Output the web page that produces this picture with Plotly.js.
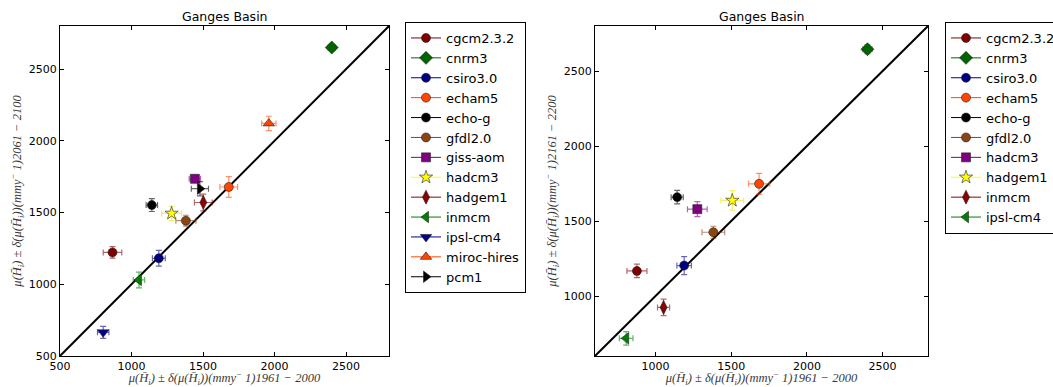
<!DOCTYPE html>
<html>
<head>
<meta charset="utf-8">
<script src="https://cdn.plot.ly/plotly-3.0.1.min.js"></script>
<style>
html,body{margin:0;padding:0;background:#fff;}
#chart{width:1053px;height:387px;}
</style>
</head>
<body>
<div id="chart"></div>
<script>
// ---- Data ----
const leftModels = ['cgcm2.3.2','cnrm3','csiro3.0','echam5','echo-g','gfdl2.0','giss-aom','hadcm3','hadgem1','inmcm','ipsl-cm4','miroc-hires','pcm1'];
const leftX    = [867, 2400, 1191, 1680, 1142, 1380, 1443, 1280, 1502, 1052, 802, 1960, 1478];
const leftY    = [1222, 2650, 1181, 1678, 1552, 1443, 1735, 1494, 1570, 1030, 665, 2121, 1666];
const leftXerr = [65, 25, 45, 62, 40, 70, 40, 70, 62, 40, 40, 50, 60];
const leftYerr = [40, 22, 55, 72, 45, 38, 25, 50, 58, 55, 42, 50, 50];

const rightModels = ['cgcm2.3.2','cnrm3','csiro3.0','echam5','echo-g','gfdl2.0','hadcm3','hadgem1','inmcm','ipsl-cm4'];
const rightX    = [877, 2400, 1189, 1684, 1143, 1382, 1276, 1507, 1053, 806];
const rightY    = [1167, 2645, 1203, 1748, 1659, 1425, 1579, 1637, 924, 718];
const rightXerr = [66, 30, 48, 70, 40, 75, 65, 75, 40, 45];
const rightYerr = [45, 30, 60, 70, 45, 40, 50, 65, 55, 45];

const leftRange  = [500, 2800];
const rightRange = [600, 2800];
const leftTicks  = [500, 1000, 1500, 2000, 2500];
const rightTicks = [1000, 1500, 2000, 2500];

const panelTitle = 'Ganges Basin';
const xTitleText = 'μ(H̄<sub>i</sub>) ± δ(μ(H̄<sub>i</sub>))(mmy<sup>−</sup> 1)1961 − 2000';
const yTitleLeftText  = 'μ(H̄<sub>i</sub>) ± δ(μ(H̄<sub>i</sub>))(mmy<sup>−</sup> 1)2061 − 2100';
const yTitleRightText = 'μ(H̄<sub>i</sub>) ± δ(μ(H̄<sub>i</sub>))(mmy<sup>−</sup> 1)2161 − 2200';

// ---- Styles (in plotting order) ----
const styleColors  = ['#800000','#006400','#000080','#FF4500','#000000','#8B4513','#800080','#FFFF00','#8B0000','#008000','#00008B','#FF4500','#000000'];
const styleSymbols = ['circle','diamond','circle','circle','circle','circle','square','star','diamond-tall','triangle-left','triangle-down','triangle-up','triangle-right'];
const styleSizes   = [9,10,9,9,9,9,9,10,10,10,10,10,10];

function hexToRgba(hex, a){
  const r=parseInt(hex.slice(1,3),16), g=parseInt(hex.slice(3,5),16), b=parseInt(hex.slice(5,7),16);
  return 'rgba('+r+','+g+','+b+','+a+')';
}

function makeTraces(models, xs, ys, xe, ye, xa, ya, legendId){
  return models.map((m,i)=>{
    const ec = hexToRgba(styleColors[i]==='#FFFF00'?'#E8E800':styleColors[i],0.6);
    return {
      type:'scatter', mode:'lines+markers', name:m,
      x:[xs[i]], y:[ys[i]], xaxis:xa, yaxis:ya, legend:legendId,
      line:{color:styleColors[i], width:1},
      marker:{symbol:styleSymbols[i], color:styleColors[i], size:styleSizes[i], line:{color:'#222', width:0.6}},
      error_x:{type:'data', array:[xe[i]], visible:true, color:ec, thickness:1.2, width:3},
      error_y:{type:'data', array:[ye[i]], visible:true, color:ec, thickness:1.2, width:3}
    };
  });
}

const traces = [
  {type:'scatter', mode:'lines', x:leftRange, y:leftRange, xaxis:'x', yaxis:'y', line:{color:'#000', width:2}, showlegend:false, hoverinfo:'skip'},
  {type:'scatter', mode:'lines', x:rightRange, y:rightRange, xaxis:'x2', yaxis:'y2', line:{color:'#000', width:2}, showlegend:false, hoverinfo:'skip'}
].concat(
  makeTraces(leftModels, leftX, leftY, leftXerr, leftYerr, 'x', 'y', 'legend'),
  makeTraces(rightModels, rightX, rightY, rightXerr, rightYerr, 'x2', 'y2', 'legend2')
);

const W=1053, H=387;
const tickFont = {family:'DejaVu Sans', size:11, color:'#000'};
const titleFont = {family:'Liberation Serif', size:12.5, color:'#3a3a3a', style:'italic'};
function axis(domain, range, ticks, anchor, title){
  return {domain:domain, range:range, anchor:anchor, tickvals:ticks, ticktext:ticks.map(String),
    ticks:'inside', ticklen:4, tickcolor:'#000', tickwidth:1,
    showline:true, linecolor:'#000', linewidth:1, mirror:'ticks',
    showgrid:false, zeroline:false, tickfont:tickFont, automargin:false,
    title:{text:title, font:titleFont, standoff:4}};
}
const yDom = [(H-356)/H, (H-26)/H];
const lx = [60/W, 389/W], rx = [595/W, 928/W];

const layout = {
  width:W, height:H,
  margin:{l:0, r:0, t:0, b:0, autoexpand:false},
  paper_bgcolor:'#fff', plot_bgcolor:'#fff',
  xaxis: axis(lx, leftRange, leftTicks, 'y', xTitleText),
  yaxis: axis(yDom, leftRange, leftTicks, 'x', yTitleLeftText),
  xaxis2: axis(rx, rightRange, rightTicks, 'y2', xTitleText),
  yaxis2: axis(yDom, rightRange, rightTicks, 'x2', yTitleRightText),
  legend:{x:405/W, y:(H-22)/H, xanchor:'left', yanchor:'top', bgcolor:'#fff', bordercolor:'#000', borderwidth:1,
    font:{family:'DejaVu Sans', size:13, color:'#000'}, itemwidth:30},
  legend2:{x:945/W, y:(H-22)/H, xanchor:'left', yanchor:'top', bgcolor:'#fff', bordercolor:'#000', borderwidth:1,
    font:{family:'DejaVu Sans', size:13, color:'#000'}, itemwidth:30},
  annotations:[
    {text:panelTitle, xref:'paper', yref:'paper', x:(lx[0]+lx[1])/2, y:(H-16)/H, xanchor:'center', yanchor:'middle', showarrow:false, font:{family:'DejaVu Sans', size:12.5, color:'#000'}},
    {text:panelTitle, xref:'paper', yref:'paper', x:(rx[0]+rx[1])/2, y:(H-16)/H, xanchor:'center', yanchor:'middle', showarrow:false, font:{family:'DejaVu Sans', size:12.5, color:'#000'}}
  ]
};

Plotly.newPlot('chart', traces, layout, {displayModeBar:false, staticPlot:true});
</script>
</body>
</html>
